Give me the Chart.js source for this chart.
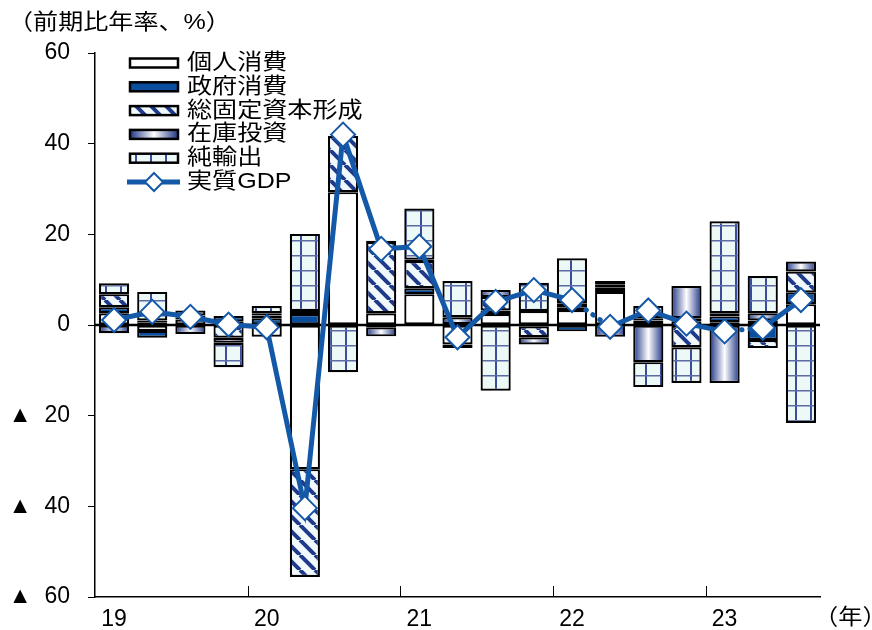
<!DOCTYPE html>
<html lang="ja">
<head>
<meta charset="UTF-8">
<title>実質GDP成長率の需要項目別寄与度</title>
<script src="https://cdn.jsdelivr.net/npm/chart.js"></script>
<style>
  html, body { margin: 0; padding: 0; background: #fff; }
  #wrap { position: relative; width: 872px; height: 630px; }
</style>
</head>
<body>
<div id="wrap"><canvas id="gdpChart"></canvas></div>
<script>
  // 2019Q1 - 2023Q3, annualized q/q %, contributions
  const quarters = ['19Q1','19Q2','19Q3','19Q4','20Q1','20Q2','20Q3','20Q4',
                    '21Q1','21Q2','21Q3','21Q4','22Q1','22Q2','22Q3','22Q4',
                    '23Q1','23Q2','23Q3'];
  const yearLabels = ['19', '20', '21', '22', '23'];
  const privateCons = [2.6, -1.3, 1.2, 0.8, -2.6, -31.8, 29.3, 2.6, 6.8, -4.3, 2.4, 3.1, 3.3, 7.3, 1.0, 0.8, 0.6, 1.0, 4.6];
  const govtCons    = [1.3, -1.5, 0.5, 1.2, 1.5, 2.4, 0.0, -0.5, 1.3, 0.2, 0.8, -0.3, -1.4, 0.9, 0.5, 0.7, 1.3, -3.3, 2.6];
  const fixedInv    = [2.9, 0.5, 0.4, -2.8, 0.6, -23.8, 12.4, 15.7, 6.0, -0.8, 3.0, -2.4, 0.5, 0.8, 2.7, -4.9, 0.7, -1.8, 4.6];
  const inventory   = [-1.8, 0.5, -2.0, -1.1, 0.5, 0.7, 0.0, -2.0, 0.3, 1.5, 1.5, -1.6, 1.0, -2.6, -8.2, 7.1, -12.8, 1.6, 2.2];
  const netExports  = [2.4, 6.3, 1.1, -5.4, 1.6, 17.0, -10.4, 0.3, 11.3, 8.0, -14.5, 6.2, 9.9, 0.7, -5.5, -7.9, 20.3, 8.2, -21.6];
  const realGdp     = [1.1, 2.9, 1.8, 0.1, -0.5, -40.4, 42.0, 16.8, 17.3, -2.7, 5.1, 7.7, 5.5, -0.4, 3.2, 0.3, -1.4, -0.6, 5.5];
  const yRange = [-60, 60, 20];

  // segments of the GDP line drawn dotted (start index)
  const dottedFrom = [12, 16];

  const NAVY = '#1f3a8a';
  const LINE_BLUE = '#1458a8';
  const JP_FONT = '"Liberation Sans", "Noto Sans CJK JP", sans-serif';
  const TICK_FONT = '"Liberation Sans", "DejaVu Sans", sans-serif';

  function makeStripes() {
    const s = 15;
    const c = document.createElement('canvas');
    c.width = s; c.height = s;
    const g = c.getContext('2d');
    g.fillStyle = '#f1f9fc';
    g.fillRect(0, 0, s, s);
    g.strokeStyle = NAVY;
    g.lineWidth = 4;
    g.beginPath();
    for (let k = -s; k <= s; k += s) {
      g.moveTo(k, 0);
      g.lineTo(k + s, s);
    }
    g.stroke();
    return g.createPattern(c, 'repeat');
  }

  function makeGrid() {
    const s = 15;
    const c = document.createElement('canvas');
    c.width = s; c.height = s;
    const g = c.getContext('2d');
    g.fillStyle = '#edf9f7';
    g.fillRect(0, 0, s, s);
    g.fillStyle = '#3b4c9c';
    g.fillRect(0, 0, 2, s);
    g.fillStyle = '#5c6aa6';
    g.fillRect(0, 0, s, 1.5);
    return g.createPattern(c, 'repeat');
  }

  function stockGradient(ctx, left, right) {
    const gr = ctx.createLinearGradient(left, 0, right, 0);
    gr.addColorStop(0, '#1f3585');
    gr.addColorStop(0.5, '#ffffff');
    gr.addColorStop(1, '#1f3585');
    return gr;
  }

  const stripeFill = makeStripes();
  const gridFill = makeGrid();
  const BAR_PCT = 0.79;

  function stockFill(c) {
    const chart = c.chart;
    const x = chart.scales && chart.scales.x;
    if (!x || c.dataIndex === undefined) return '#8a98c8';
    const center = x.getPixelForValue(c.dataIndex);
    const half = x.width / quarters.length * BAR_PCT / 2;
    if (!Number.isFinite(center) || !Number.isFinite(half) || half <= 0) return '#8a98c8';
    return stockGradient(chart.ctx, center - half, center + half);
  }

  const legendItems = [
    { label: '個人消費', fill: '#ffffff' },
    { label: '政府消費', fill: '#0a4f9e' },
    { label: '総固定資本形成', fill: stripeFill },
    { label: '在庫投資', fill: 'gradient' },
    { label: '純輸出', fill: gridFill },
    { label: '実質GDP', fill: 'line' }
  ];

  function drawWideText(ctx, text, x, y, size, stretch) {
    ctx.save();
    ctx.translate(x, y);
    ctx.scale(stretch, 1);
    ctx.font = size + 'px ' + JP_FONT;
    ctx.fillStyle = '#000';
    ctx.textAlign = 'left';
    ctx.textBaseline = 'middle';
    ctx.fillText(text, 0, 0);
    ctx.restore();
  }

  const decorations = {
    id: 'decorations',
    afterDatasetDraw(chart, args) {
      if (args.index !== 0) return;
      const { ctx, chartArea } = chart;
      const y0 = chart.scales.y.getPixelForValue(0);
      ctx.save();
      ctx.strokeStyle = '#000';
      ctx.lineWidth = 2.5;
      ctx.beginPath();
      ctx.moveTo(chartArea.left, y0);
      ctx.lineTo(chartArea.right, y0);
      ctx.stroke();
      ctx.restore();
    },
    afterDraw(chart) {
      const { ctx, chartArea } = chart;
      const x = chart.scales.x;
      const step = x.width / quarters.length;

      // inward year ticks
      ctx.save();
      ctx.strokeStyle = '#000';
      ctx.lineWidth = 1;
      for (let i = 4; i < quarters.length; i += 4) {
        const px = Math.round(x.getPixelForValue(i) - step / 2) + 0.5;
        ctx.beginPath();
        ctx.moveTo(px, chartArea.bottom);
        ctx.lineTo(px, chartArea.bottom - 11);
        ctx.stroke();
      }
      ctx.restore();

      drawWideText(ctx, '（前期比年率、%）', 8, 23, 22, 1.14);
      drawWideText(ctx, '（年）', 814, 618, 22, 1.1);

      // legend
      const sx = 130, sw = 48, sh = 9;
      legendItems.forEach((item, i) => {
        const cy = 63 + i * 23.8;
        ctx.save();
        if (item.fill === 'line') {
          ctx.strokeStyle = LINE_BLUE;
          ctx.lineWidth = 5;
          ctx.beginPath();
          ctx.moveTo(sx - 3, cy);
          ctx.lineTo(sx + sw + 2, cy);
          ctx.stroke();
          const r = 9, cx = sx + sw / 2;
          ctx.beginPath();
          ctx.moveTo(cx, cy - r);
          ctx.lineTo(cx + r, cy);
          ctx.lineTo(cx, cy + r);
          ctx.lineTo(cx - r, cy);
          ctx.closePath();
          ctx.fillStyle = '#fff';
          ctx.fill();
          ctx.lineWidth = 2;
          ctx.stroke();
        } else {
          ctx.fillStyle = item.fill === 'gradient' ? stockGradient(ctx, sx, sx + sw) : item.fill;
          ctx.fillRect(sx, cy - sh / 2, sw, sh);
          ctx.strokeStyle = '#000';
          ctx.lineWidth = 2.5;
          ctx.strokeRect(sx, cy - sh / 2, sw, sh);
        }
        ctx.restore();
        drawWideText(ctx, item.label, 187, cy, 22, 1.14);
      });
    }
  };

  const barCommon = {
    type: 'bar',
    stack: 'comp',
    borderColor: '#000',
    borderWidth: 2.2,
    borderSkipped: false,
    barPercentage: BAR_PCT,
    categoryPercentage: 1
  };

  new Chart(document.getElementById('gdpChart'), {
    data: {
      labels: quarters,
      datasets: [
        { ...barCommon, label: '個人消費', data: privateCons, backgroundColor: '#ffffff' },
        { ...barCommon, label: '政府消費', data: govtCons, backgroundColor: '#0a4f9e' },
        { ...barCommon, label: '総固定資本形成', data: fixedInv, backgroundColor: stripeFill },
        { ...barCommon, label: '在庫投資', data: inventory, backgroundColor: stockFill },
        { ...barCommon, label: '純輸出', data: netExports, backgroundColor: gridFill },
        {
          type: 'line',
          label: '実質GDP',
          data: realGdp,
          stack: 'gdp',
          order: -1,
          borderColor: LINE_BLUE,
          borderWidth: 5,
          borderCapStyle: 'round',
          tension: 0,
          pointStyle: 'rectRot',
          pointRadius: 12,
          pointBackgroundColor: '#ffffff',
          pointBorderColor: LINE_BLUE,
          pointBorderWidth: 2,
          segment: {
            borderDash: c => dottedFrom.includes(c.p0DataIndex) ? [0.5, 8] : undefined
          }
        }
      ]
    },
    options: {
      responsive: true,
      maintainAspectRatio: false,
      animation: false,
      events: [],
      layout: { padding: { top: 53, right: 52, left: 0, bottom: 0 } },
      plugins: {
        legend: { display: false },
        tooltip: { enabled: false }
      },
      scales: {
        x: {
          stacked: true,
          grid: { display: false },
          border: { display: true, color: '#000', width: 1.5 },
          afterFit: s => { s.height = 33; },
          ticks: {
            autoSkip: false,
            maxRotation: 0,
            padding: 1,
            color: '#000',
            font: { family: TICK_FONT, size: 23 },
            callback: (v, i) => i % 4 === 0 ? yearLabels[i / 4] : ''
          }
        },
        y: {
          stacked: true,
          min: yRange[0],
          max: yRange[1],
          grid: {
            display: true,
            drawOnChartArea: false,
            drawTicks: true,
            tickLength: 7,
            color: '#000',
            lineWidth: 1
          },
          border: { display: true, color: '#000', width: 1.5 },
          afterFit: s => { s.width = 95; },
          ticks: {
            stepSize: yRange[2],
            padding: 18,
            color: '#000',
            font: { family: TICK_FONT, size: 23 },
            callback: v => v < 0 ? '▲  ' + (-v) : String(v)
          }
        }
      }
    },
    plugins: [decorations]
  });
</script>
</body>
</html>
